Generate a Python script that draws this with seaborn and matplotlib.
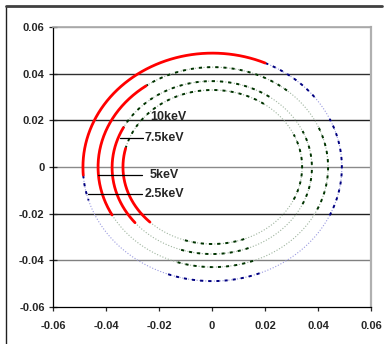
import numpy as np
import matplotlib
matplotlib.use("Agg")
import matplotlib.pyplot as plt
import seaborn as sns

# ---- data ----
ring_names = ["10keV", "7.5keV", "5keV", "2.5keV"]
ring_left = [-0.0487, -0.0430, -0.0377, -0.0336]
ring_right = [0.0490, 0.0438, 0.0377, 0.0340]
ring_top = [0.0488, 0.0428, 0.0368, 0.0330]
ring_bottom = [-0.0489, -0.0429, -0.0373, -0.0330]
# red (solid) arc extent in degrees, counter-clockwise
red_start = [66, 125.7, 152.5, 166]
red_end = [184, 208.6, 219.6, 225.7]
# dark dashed portions of each ring (degrees)
dark_parts = [
    [(-25, 25), (38, 66), (250, 292), (184, 197)],
    [(-25, 25), (50, 125.7), (252, 292)],
    [(-25, 25), (55, 152.5), (252, 292)],
    [(-25, 25), (55, 166), (252, 292)],
]
light_colors = ["#9a9ae0", "#9fb59f", "#9fb59f", "#9fb59f"]
dark_colors = ["#000080", "#003300", "#003300", "#003300"]

label_x = [-0.0234, -0.0253, -0.0234, -0.0253]
label_y = [0.0214, 0.0124, -0.0034, -0.0116]
leader_x0 = [None, -0.0347, -0.0430, -0.0468]
leader_x1 = [None, -0.0262, -0.0264, -0.0264]

x_ticks = [-0.06, -0.04, -0.02, 0, 0.02, 0.04, 0.06]
x_tick_labels = ["-0.06", "-0.04", "-0.02", "0", "0.02", "0.04", "0.06"]
y_ticks = [-0.06, -0.04, -0.02, 0, 0.02, 0.04, 0.06]
y_tick_labels = ["-0.06", "-0.04", "-0.02", "0", "0.02", "0.04", "0.06"]

sns.set_style("white")
plt.rcParams["font.family"] = ["Liberation Sans", "DejaVu Sans"]

fig = plt.figure(figsize=(3.91, 3.44), dpi=100)
ax = fig.add_axes([53 / 391, 37 / 344, 318 / 391, 280 / 344])


def arc(i, a0, a1, n=120):
    cx = (ring_left[i] + ring_right[i]) / 2
    cy = (ring_top[i] + ring_bottom[i]) / 2
    rx = (ring_right[i] - ring_left[i]) / 2
    ry = (ring_top[i] - ring_bottom[i]) / 2
    t = np.radians(np.linspace(a0, a1, n))
    return cx + rx * np.cos(t), cy + ry * np.sin(t)


# gridlines
grid_colors = {0.06: "#a8a8a8", 0.04: "#303030", 0.02: "#202020", 0: "#8a8a8a",
               -0.02: "#202020", -0.04: "#808080"}
for yv, c in grid_colors.items():
    ax.axhline(yv, color=c, lw=1.0, zorder=0)

for i in range(len(ring_names)):
    # light thin dotted full ring
    x, y = arc(i, red_end[i], red_start[i] + 360, 300)
    sns.lineplot(x=x, y=y, sort=False, estimator=None, ax=ax, color=light_colors[i],
                 linewidth=0.8, linestyle=(0, (1, 1.6)), zorder=2)
    for a0, a1 in dark_parts[i]:
        x, y = arc(i, a0, a1, 80)
        sns.lineplot(x=x, y=y, sort=False, estimator=None, ax=ax, color=dark_colors[i],
                     linewidth=1.4, linestyle=(0, (1.6, 2.6)), zorder=3)
    x, y = arc(i, red_start[i], red_end[i], 150)
    sns.lineplot(x=x, y=y, sort=False, estimator=None, ax=ax, color="#ff0000",
                 linewidth=2.0, zorder=4)

for i, name in enumerate(ring_names):
    ax.text(label_x[i], label_y[i], name, fontsize=9, fontweight="bold",
            va="center", ha="left", zorder=6)
    if leader_x0[i] is not None:
        ax.plot([leader_x0[i], leader_x1[i]], [label_y[i], label_y[i]],
                color="black", lw=0.9, zorder=5)

ax.set_xlim(-0.06, 0.06)
ax.set_ylim(-0.06, 0.06)
ax.set_xticks(x_ticks)
ax.set_xticklabels(x_tick_labels)
ax.set_yticks(y_ticks)
ax.set_yticklabels(y_tick_labels)
for lab in ax.get_xticklabels() + ax.get_yticklabels():
    lab.set_fontweight("bold")
    lab.set_fontsize(8)
ax.tick_params(axis="y", direction="inout", length=6, width=0.9, pad=3, left=True)
ax.tick_params(axis="x", direction="out", length=3, width=0.9, pad=7, bottom=True)
ax.set_xlabel("")
ax.set_ylabel("")

for s in ["left", "bottom"]:
    ax.spines[s].set_color("black")
    ax.spines[s].set_linewidth(0.9)
ax.spines["right"].set_color("#b0b0b0")
ax.spines["right"].set_linewidth(1.6)
ax.spines["top"].set_color("#a8a8a8")
ax.spines["top"].set_linewidth(1.2)
for s in ax.spines.values():
    s.set_zorder(5)

# outer chart frame
fig.add_artist(plt.Line2D([6 / 391, 6 / 391], [0, 1 - 5.5 / 344], color="#202020", lw=1.0))
fig.add_artist(plt.Line2D([6 / 391, 382 / 391], [1 - 5.5 / 344, 1 - 5.5 / 344],
                          color="#404040", lw=2.0))

fig.savefig("out.png", dpi=100)
